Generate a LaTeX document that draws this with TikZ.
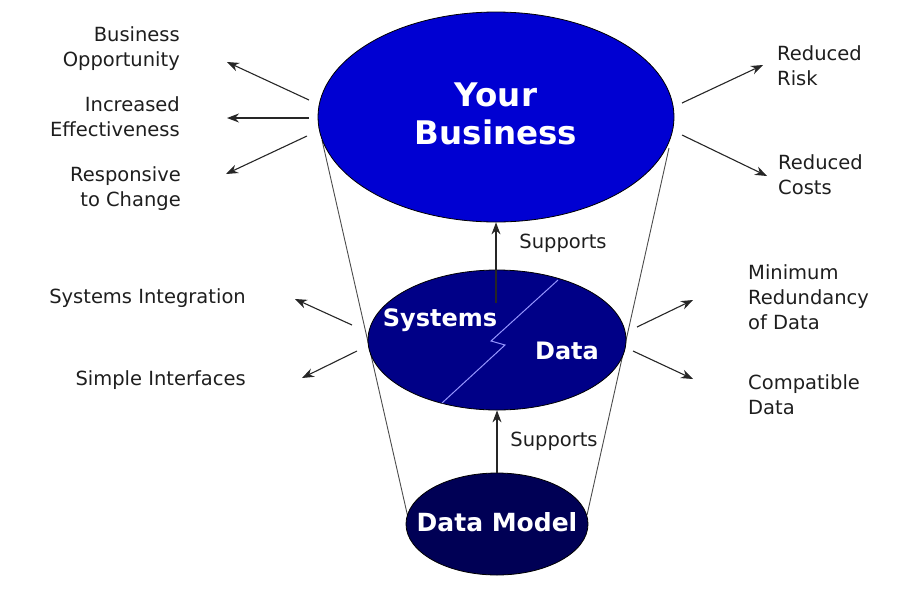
\documentclass[tikz,border=0pt]{standalone}
\usepackage{fontspec}
\setmainfont{DejaVu Sans}
\usetikzlibrary{arrows.meta,shapes.geometric}

\definecolor{bizblue}{RGB}{0,0,210}
\definecolor{sysblue}{RGB}{0,0,135}
\definecolor{modelblue}{RGB}{0,0,85}
\definecolor{zigblue}{RGB}{150,150,255}
\definecolor{txtgray}{RGB}{30,30,30}

\tikzset{
  blob/.style={ellipse, draw=black, line width=0.8pt, inner sep=0pt, text=white},
  blobtxt/.style={inner sep=0pt, text=white},
  lbl/.style={inner sep=0pt, text=txtgray, font=\fontsize{19.5}{25}\selectfont},
  arr/.style={-{Stealth[length=12pt,width=9pt]}, line width=1.1pt, draw=black!85},
  funnel/.style={line width=0.9pt, draw=black!70}
}

\begin{document}
\begin{tikzpicture}[x=1pt,y=-1pt]
  \useasboundingbox (0,0) rectangle (909,590);

  % Imbuto
  \coordinate (tl) at (322,140);
  \coordinate (bl) at (409,522);
  \coordinate (tr) at (669,148);
  \coordinate (br) at (587,515);
  \draw[funnel] (tl) -- (bl);
  \draw[funnel] (tr) -- (br);

  % Ellissi
  \node[blob, fill=bizblue, minimum width=356, minimum height=210] (biz) at (496,117) {};
  \node[blob, fill=sysblue, minimum width=258, minimum height=140] (sysdata) at (497,340) {};
  \node[blob, fill=modelblue, minimum width=182, minimum height=102] (model) at (497,524) {};
  \node[blobtxt, align=center, font=\bfseries\fontsize{32.5}{38}\selectfont] (biztxt) at (496,114) {Your\\Business};
  \node[blobtxt, font=\bfseries\fontsize{25}{28}\selectfont] (modtxt) at (497,522) {Data Model};

  % Divisione sistemi / dati
  \draw[zigblue, line width=1pt] (558,280) -- (491,341) -- (505,345) -- (442,403);
  \node[blobtxt, font=\bfseries\fontsize{24}{28}\selectfont] (sys) at (440,320) {Systems};
  \node[blobtxt, font=\bfseries\fontsize{24}{28}\selectfont] (dat) at (567,351) {Data};

  % Frecce centrali
  \coordinate (sysin) at (496,303);
  \draw[arr] (sysin) -- (biz.south);
  \draw[arr] (model.north) -- (sysdata.south);
  \node[lbl] (sup1) at (563,243) {Supports};
  \node[lbl] (sup2) at (554,441) {Supports};

  % Etichette
  \node[lbl, align=right, anchor=east] (opp) at (180,49) {Business\\Opportunity};
  \node[lbl, align=right, anchor=east] (eff) at (180,117) {Increased\\Effectiveness};
  \node[lbl, align=right, anchor=east] (resp) at (181,189) {Responsive\\to Change};
  \node[lbl, align=left, anchor=west] (risk) at (777,66) {Reduced\\Risk};
  \node[lbl, align=left, anchor=west] (cost) at (778,175) {Reduced\\Costs};
  \node[lbl, anchor=east] (integ) at (246,298) {Systems Integration};
  \node[lbl, anchor=east] (iface) at (246,380) {Simple Interfaces};
  \node[lbl, align=left, anchor=west] (redund) at (748,297) {Minimum\\Redundancy\\of Data};
  \node[lbl, align=left, anchor=west] (compat) at (748,395) {Compatible\\Data};

  % Frecce laterali
  \coordinate (a1) at (309,100);  \coordinate (b1) at (227,62);
  \coordinate (a2) at (309,118);  \coordinate (b2) at (227,118);
  \coordinate (a3) at (307,136);  \coordinate (b3) at (226,174);
  \coordinate (a4) at (682,103);  \coordinate (b4) at (763,65);
  \coordinate (a5) at (682,135);  \coordinate (b5) at (767,176);
  \coordinate (a6) at (352,325);  \coordinate (b6) at (295,299);
  \coordinate (a7) at (357,351);  \coordinate (b7) at (302,378);
  \coordinate (a8) at (637,327);  \coordinate (b8) at (693,300);
  \coordinate (a9) at (633,351);  \coordinate (b9) at (693,379);
  \draw[arr] (a1) -- (b1);
  \draw[arr] (a2) -- (b2);
  \draw[arr] (a3) -- (b3);
  \draw[arr] (a4) -- (b4);
  \draw[arr] (a5) -- (b5);
  \draw[arr] (a6) -- (b6);
  \draw[arr] (a7) -- (b7);
  \draw[arr] (a8) -- (b8);
  \draw[arr] (a9) -- (b9);
\end{tikzpicture}
\end{document}
